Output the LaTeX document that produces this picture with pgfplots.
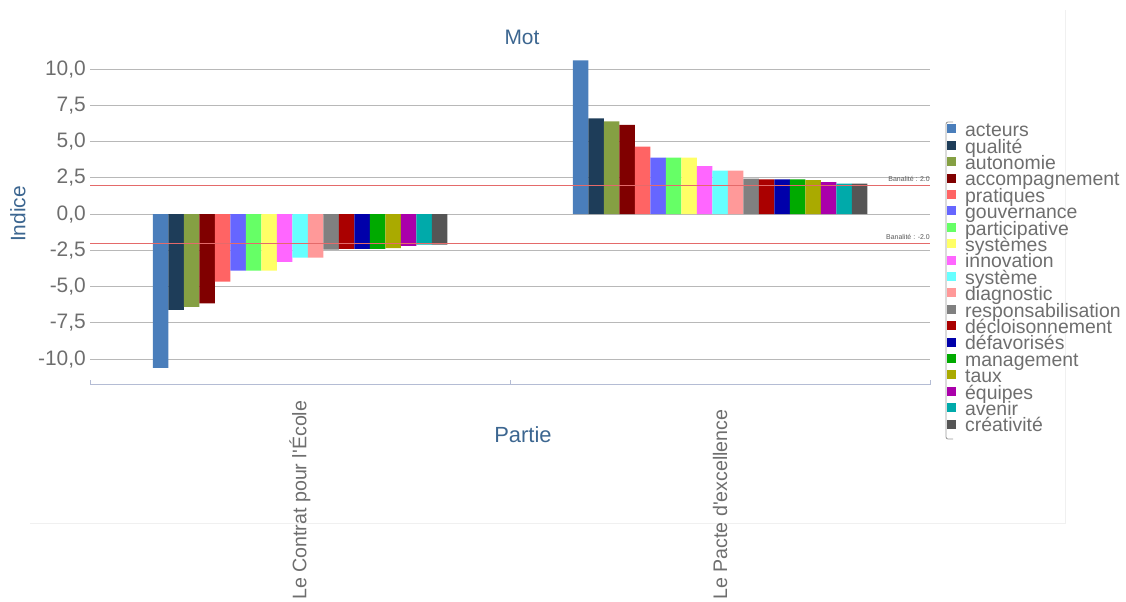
\documentclass[border=0pt]{standalone}
\usepackage{fontspec}
\setmainfont{Liberation Sans}
\usepackage{pgfplots}
\usepackage{pgfplotstable}
\pgfplotsset{compat=1.18}

\definecolor{c1}{HTML}{4A7EBB}
\definecolor{c2}{HTML}{1E3D59}
\definecolor{c3}{HTML}{85A043}
\definecolor{c4}{HTML}{800000}
\definecolor{c5}{HTML}{FF6464}
\definecolor{c6}{HTML}{6666FF}
\definecolor{c7}{HTML}{66FF66}
\definecolor{c8}{HTML}{FFFF66}
\definecolor{c9}{HTML}{FF66FF}
\definecolor{c10}{HTML}{66FFFF}
\definecolor{c11}{HTML}{FF9999}
\definecolor{c12}{HTML}{808080}
\definecolor{c13}{HTML}{AA0000}
\definecolor{c14}{HTML}{0000AA}
\definecolor{c15}{HTML}{00AA00}
\definecolor{c16}{HTML}{AAAA00}
\definecolor{c17}{HTML}{AA00AA}
\definecolor{c18}{HTML}{00AAAA}
\definecolor{c19}{HTML}{555555}
\definecolor{titleblue}{HTML}{3C6690}
\definecolor{tickgray}{HTML}{6E6E6E}
\definecolor{gridgray}{HTML}{B8B8B8}
\definecolor{axisblue}{HTML}{B4BCD4}
\definecolor{redline}{HTML}{E46A6A}

% indice par mot ; x = 0 : Le Contrat pour l'Ecole, x = 1 : Le Pacte d'excellence
\pgfplotstableread{
x acteurs qualite autonomie accompagnement pratiques gouvernance participative systemes innovation systeme diagnostic responsabilisation decloisonnement defavorises management taux equipes avenir creativite
0 -10.6 -6.6 -6.4 -6.15 -4.65 -3.9 -3.9 -3.9 -3.3 -3.0 -3.0 -2.45 -2.4 -2.4 -2.4 -2.35 -2.2 -2.1 -2.1
1 10.6 6.6 6.4 6.15 4.65 3.9 3.9 3.9 3.3 3.0 3.0 2.45 2.4 2.4 2.4 2.35 2.2 2.1 2.1
}\indices

\begin{document}
\begin{tikzpicture}
\path[use as bounding box] (0,0) rectangle (1126bp,-602bp);
\draw[black!6] (30bp,-523bp) -- (1065bp,-523bp) -- (1065bp,-10bp);

\begin{axis}[
  at={(90bp,-384bp)}, anchor=south west,
  scale only axis, width=840bp, height=332.3bp,
  xmin=-0.5, xmax=1.5, ymin=-11.72, ymax=11.2,
  clip=false,
  ybar=0pt, bar width=15.5bp,
  axis line style={draw=none},
  major tick length=0pt,
  xtick={0,1},
  xticklabels={Le Contrat pour l\textquotesingle École, Le Pacte d\textquotesingle excellence},
  xticklabel style={yshift=-216bp, rotate=90, anchor=west, inner sep=0pt,
    font=\fontsize{19.7}{20}\selectfont, text=tickgray},
  ytick={-10,-7.5,...,10},
  ymajorgrids, grid style={gridgray, line width=0.9bp},
  yticklabel style={/pgf/number format/fixed, /pgf/number format/fixed zerofill,
    /pgf/number format/precision=1, /pgf/number format/use comma,
    /pgf/number format/assume math mode=true,
    font=\fontsize{21}{21}\selectfont, text=tickgray, inner sep=0pt, xshift=-4bp},
  legend style={at={(axis description cs:1.0202,0.7824)}, anchor=north west,
    draw=none, fill=none, inner sep=0pt, row sep=0pt, column sep=9bp,
    nodes={inner sep=0pt, text height=12.5bp, text depth=3.9bp},
    font=\fontsize{19.5}{16.4}\selectfont, text=tickgray},
  legend cell align=left,
  legend image code/.code={\fill[#1] (0bp,-1bp) rectangle (9bp,8bp);},
]
\addplot[fill=c1, draw=none] table[x=x, y=acteurs] {\indices};
\addlegendentry{acteurs}
\addplot[fill=c2, draw=none] table[x=x, y=qualite] {\indices};
\addlegendentry{qualité}
\addplot[fill=c3, draw=none] table[x=x, y=autonomie] {\indices};
\addlegendentry{autonomie}
\addplot[fill=c4, draw=none] table[x=x, y=accompagnement] {\indices};
\addlegendentry{accompagnement}
\addplot[fill=c5, draw=none] table[x=x, y=pratiques] {\indices};
\addlegendentry{pratiques}
\addplot[fill=c6, draw=none] table[x=x, y=gouvernance] {\indices};
\addlegendentry{gouvernance}
\addplot[fill=c7, draw=none] table[x=x, y=participative] {\indices};
\addlegendentry{participative}
\addplot[fill=c8, draw=none] table[x=x, y=systemes] {\indices};
\addlegendentry{systèmes}
\addplot[fill=c9, draw=none] table[x=x, y=innovation] {\indices};
\addlegendentry{innovation}
\addplot[fill=c10, draw=none] table[x=x, y=systeme] {\indices};
\addlegendentry{système}
\addplot[fill=c11, draw=none] table[x=x, y=diagnostic] {\indices};
\addlegendentry{diagnostic}
\addplot[fill=c12, draw=none] table[x=x, y=responsabilisation] {\indices};
\addlegendentry{responsabilisation}
\addplot[fill=c13, draw=none] table[x=x, y=decloisonnement] {\indices};
\addlegendentry{décloisonnement}
\addplot[fill=c14, draw=none] table[x=x, y=defavorises] {\indices};
\addlegendentry{défavorisés}
\addplot[fill=c15, draw=none] table[x=x, y=management] {\indices};
\addlegendentry{management}
\addplot[fill=c16, draw=none] table[x=x, y=taux] {\indices};
\addlegendentry{taux}
\addplot[fill=c17, draw=none] table[x=x, y=equipes] {\indices};
\addlegendentry{équipes}
\addplot[fill=c18, draw=none] table[x=x, y=avenir] {\indices};
\addlegendentry{avenir}
\addplot[fill=c19, draw=none] table[x=x, y=creativite] {\indices};
\addlegendentry{créativité}

% seuils de banalite
\addplot[sharp plot, draw=redline, line width=0.9bp, forget plot] coordinates {(-0.5,2) (1.5,2)};
\addplot[sharp plot, draw=redline, line width=0.9bp, forget plot] coordinates {(-0.5,-2) (1.5,-2)};
\node[anchor=south east, inner sep=0pt, yshift=3bp, font=\fontsize{7}{7}\selectfont, text=black!65]
  at (axis cs:1.5,2) {Banalité : 2.0};
\node[anchor=south east, inner sep=0pt, yshift=3bp, font=\fontsize{7}{7}\selectfont, text=black!65]
  at (axis cs:1.5,-2) {Banalité : -2.0};
\end{axis}

% axe horizontal
\draw[axisblue, line width=0.9bp] (90bp,-380bp) -- (90bp,-384bp) -- (930bp,-384bp) -- (930bp,-380bp);
\draw[axisblue, line width=0.9bp] (510bp,-384bp) -- (510bp,-380bp);

\draw[black!40, line width=0.8bp, rounded corners=2bp] (953bp,-122bp) -- (946bp,-122bp) -- (946bp,-439bp) -- (953bp,-439bp);

\node[text=titleblue, font=\fontsize{21}{21}\selectfont] at (522bp,-37bp) {Mot};
\node[text=titleblue, font=\fontsize{21}{21}\selectfont, rotate=90] at (18bp,-214bp) {Indice};
\node[text=titleblue, font=\fontsize{22}{22}\selectfont] at (523bp,-435bp) {Partie};
\end{tikzpicture}
\end{document}
